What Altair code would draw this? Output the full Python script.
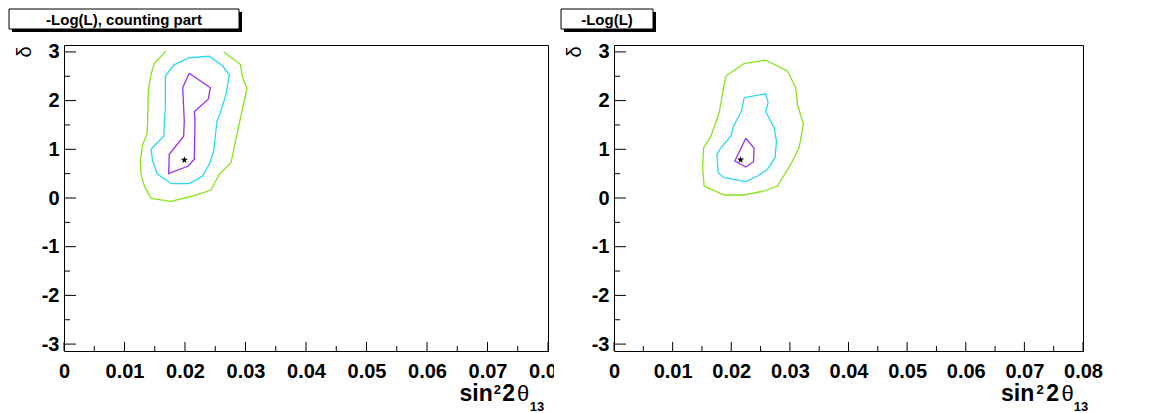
import math
import altair as alt
import pandas as pd

PI = math.pi

# ---------------- data ----------------
X_MAJOR = [0.0, 0.01, 0.02, 0.03, 0.04, 0.05, 0.06, 0.07, 0.08]
X_MINOR = [0.005, 0.015, 0.025, 0.035, 0.045, 0.055, 0.065, 0.075]
Y_MAJOR = [-3, -2, -1, 0, 1, 2, 3]
Y_MINOR = [-2.5, -1.5, -0.5, 0.5, 1.5, 2.5]

# left panel: -Log(L), counting part
L_GREEN_X = [0.01686, 0.01493, 0.01438, 0.01393, 0.01383, 0.01372, 0.01301, 0.01261, 0.01273,
             0.01327, 0.01438, 0.01769, 0.02127, 0.0243, 0.02567, 0.0276, 0.02871, 0.02954,
             0.03025, 0.02954, 0.02914, 0.0264]
L_GREEN_Y = [3.02, 2.76, 2.54, 2.20, 1.58, 1.31, 1.10, 0.76, 0.49,
             0.25, -0.006, -0.068, 0.041, 0.164, 0.487, 0.725, 1.376, 1.854,
             2.25, 2.47, 2.745, 3.00]
L_CYAN_X = [0.01675, 0.01813, 0.02071, 0.02402, 0.02623, 0.02733, 0.02678, 0.02584, 0.02529,
            0.02474, 0.02413, 0.02292, 0.02071, 0.01769, 0.01537, 0.01466, 0.01438, 0.01648,
            0.01658, 0.01675, 0.01675]
L_CYAN_Y = [2.50, 2.73, 2.88, 2.91, 2.71, 2.53, 2.13, 1.75, 1.58,
            0.965, 0.725, 0.45, 0.294, 0.294, 0.50, 0.76, 1.0, 1.27,
            1.51, 1.85, 2.50]
L_PURPLE_X = [0.02071, 0.02418, 0.02385, 0.02154, 0.02165, 0.02154, 0.02055, 0.0173, 0.0174,
              0.01978, 0.01988, 0.01962, 0.02071]
L_PURPLE_Y = [2.56, 2.265, 2.03, 1.77, 1.58, 0.795, 0.657, 0.50, 0.897,
              1.27, 1.58, 2.265, 2.56]
L_STAR = [0.0199, 0.78]

# right panel: -Log(L)
R_GREEN_X = [0.01908, 0.0222, 0.02589, 0.02959, 0.031, 0.03129, 0.03232, 0.03157, 0.03015,
             0.02789, 0.0256, 0.0222, 0.01879, 0.01538, 0.01511, 0.01528, 0.01652, 0.01794,
             0.01869, 0.01908]
R_GREEN_Y = [2.505, 2.76, 2.83, 2.61, 2.265, 1.924, 1.51, 1.03, 0.69,
             0.246, 0.144, 0.062, 0.062, 0.246, 0.62, 1.03, 1.27, 1.75,
             2.265, 2.505]
R_CYAN_X = [0.0222, 0.02589, 0.02629, 0.02589, 0.02731, 0.02772, 0.02748, 0.02618, 0.02448,
            0.02249, 0.01879, 0.01777, 0.01755, 0.01823, 0.01993, 0.02039, 0.02175, 0.0222]
R_CYAN_Y = [2.06, 2.14, 1.957, 1.772, 1.444, 1.17, 0.828, 0.589, 0.452,
            0.335, 0.417, 0.52, 0.897, 1.03, 1.273, 1.478, 1.786, 2.06]
R_PURPLE_X = [0.02249, 0.0239, 0.0238, 0.02249, 0.02061, 0.02249]
R_PURPLE_Y = [1.226, 1.02, 0.745, 0.637, 0.76, 1.226]
R_STAR = [0.0216, 0.786]

LEVELS = ["green", "cyan", "purple"]
LEVEL_COLORS = ["#88e41c", "#2cd8f2", "#9a30f4"]

FONT = "Liberation Sans"
H = 306
STAR_PATH = ("M0,-1L0.2245,-0.309L0.951,-0.309L0.363,0.118L0.588,0.809L0,0.382"
             "L-0.588,0.809L-0.363,0.118L-0.951,-0.309L-0.2245,-0.309Z")


def one():
    return pd.DataFrame({"a": [0]})


def const_text(text, x, y, size, align="center", baseline="middle", weight="bold", angle=0):
    kw = dict(text=text, font=FONT, fontSize=size, fontWeight=weight, align=align,
              baseline=baseline, color="black")
    if angle:
        kw["angle"] = angle
    return alt.Chart(one()).mark_text(**kw).encode(x=alt.value(x), y=alt.value(y))


def const_rect(x, x2, y, y2, fill, stroke=None):
    kw = dict(fill=fill)
    if stroke:
        kw.update(stroke=stroke, strokeWidth=1)
    else:
        kw.update(strokeWidth=0)
    return alt.Chart(one()).mark_rect(**kw).encode(
        x=alt.value(x), x2=alt.value(x2), y=alt.value(y), y2=alt.value(y2))


def panel(W, gx, gy, cx, cy, px, py, star, title, box, xt, cover=None):
    rows = []
    for name, xs, ys in (("green", gx, gy), ("cyan", cx, cy), ("purple", px, py)):
        for i, (a, b) in enumerate(zip(xs, ys)):
            rows.append({"c": name, "i": i, "x": a, "y": b})
    df = pd.DataFrame(rows)

    xscale = alt.Scale(domain=[0, 0.08], nice=False, zero=False)
    yscale = alt.Scale(domain=[-PI, PI], nice=False, zero=False)

    xaxis = alt.Axis(values=X_MAJOR, tickSize=0, domain=False, grid=False, title=None,
                     labelFont=FONT, labelFontWeight="bold", labelFontSize=20,
                     labelColor="black", labelPadding=10, labelFlush=False,
                     labelOverlap=False,
                     labelExpr="datum.value == 0 ? '0' : format(datum.value, '.2f')")
    yaxis = alt.Axis(values=Y_MAJOR, tickSize=0, domain=False, grid=False, title=None,
                     labelFont=FONT, labelFontWeight="bold", labelFontSize=20,
                     labelColor="black", labelPadding=5, labelFlush=False,
                     labelOverlap=False, labelExpr="'' + datum.value")

    def X():
        return alt.X("x:Q", scale=xscale, axis=xaxis)

    def Y():
        return alt.Y("y:Q", scale=yscale, axis=yaxis)

    lines = alt.Chart(df).mark_line(strokeWidth=1.3).encode(
        x=X(), y=Y(),
        color=alt.Color("c:N", scale=alt.Scale(domain=LEVELS, range=LEVEL_COLORS), legend=None),
        order="i:Q",
    )

    xmaj = alt.Chart(pd.DataFrame({"x": X_MAJOR})).mark_rule(color="black", strokeWidth=1).encode(
        x=X(), y=alt.value(H), y2=alt.value(H - 9))
    xmin = alt.Chart(pd.DataFrame({"x": X_MINOR})).mark_rule(color="black", strokeWidth=1).encode(
        x=X(), y=alt.value(H), y2=alt.value(H - 5))
    ymaj = alt.Chart(pd.DataFrame({"y": Y_MAJOR})).mark_rule(color="black", strokeWidth=1).encode(
        y=Y(), x=alt.value(0), x2=alt.value(12))
    ymin = alt.Chart(pd.DataFrame({"y": Y_MINOR})).mark_rule(color="black", strokeWidth=1).encode(
        y=Y(), x=alt.value(0), x2=alt.value(6))

    starm = alt.Chart(pd.DataFrame({"x": [star[0]], "y": [star[1]]})).mark_point(
        shape=STAR_PATH, filled=True, size=55, color="black", opacity=1).encode(x=X(), y=Y())

    bx0, bx1 = box
    layers = [lines, xmaj, xmin, ymaj, ymin, starm]
    if cover is not None:
        layers.append(const_rect(cover[0], cover[1], H + 4, H + 36, "white"))
    layers += [
        const_rect(bx0 + 3, bx1 + 3, -33, -13, "black"),
        const_rect(bx0, bx1, -36, -16, "white", stroke="black"),
        const_text(title, (bx0 + bx1) / 2, -25.5, 15),
        const_text("δ", -39, 7, 20, weight="normal", angle=270),
        const_text("sin", W + xt[0], 356, 23, align="right", baseline="alphabetic"),
        const_text("2", W + xt[1], 349.3, 13, align="right", baseline="alphabetic"),
        const_text("2", W + xt[2], 356, 23, align="right", baseline="alphabetic"),
        const_text("θ", W + xt[3], 356, 22, align="right", baseline="alphabetic", weight="normal"),
        const_text("13", W + xt[4], 366, 13, align="right", baseline="alphabetic"),
    ]
    return alt.layer(*layers).properties(width=W, height=H)


left = panel(484, L_GREEN_X, L_GREEN_Y, L_CYAN_X, L_CYAN_Y, L_PURPLE_X, L_PURPLE_Y,
             L_STAR, "-Log(L), counting part", (-55, 175), (-55.3, -47, -33, -18.7, -3.7))
right = panel(469, R_GREEN_X, R_GREEN_Y, R_CYAN_X, R_CYAN_Y, R_PURPLE_X, R_PURPLE_Y,
              R_STAR, "-Log(L)", (-53, 39), (-48.7, -39.3, -24, -9.3, 5.3), cover=(-60, -28))

chart = alt.hconcat(left, right, spacing=66, bounds="flush", padding=0).configure(
    background="white").configure_view(stroke="black", strokeWidth=1)

chart.save("out.html", embed_options={"renderer": "svg", "actions": False})
